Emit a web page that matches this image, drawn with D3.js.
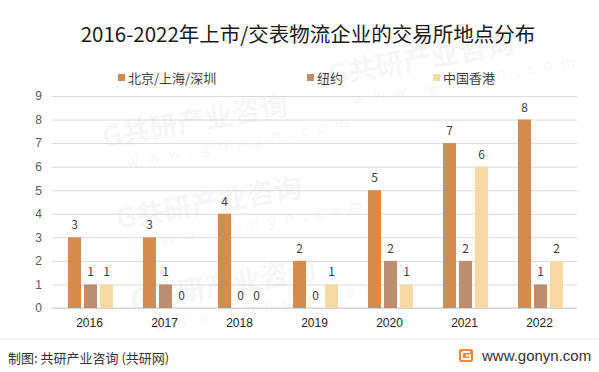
<!DOCTYPE html>
<html>
<head>
<meta charset="utf-8">
<script src="https://cdn.jsdelivr.net/npm/d3@7/dist/d3.min.js"></script>
<style>
  body { margin: 0; background: #fff; }
  svg { display: block; font-family: "Noto Sans CJK SC", "Noto Sans", sans-serif; }
  .grid line { stroke: #d9d9d9; stroke-width: 1; }
  .axis text { fill: #595959; font-size: 12px; }
  .lbl { fill: #404040; font-size: 12px; }
</style>
</head>
<body>
<svg id="chart" width="599" height="372"></svg>
<script>
var years = ["2016", "2017", "2018", "2019", "2020", "2021", "2022"];
var seriesNames = ["北京/上海/深圳", "纽约", "中国香港"];
var domestic = [3, 3, 4, 2, 5, 7, 8];
var newYork = [1, 1, 0, 0, 2, 2, 1];
var hongKong = [1, 0, 0, 1, 1, 6, 2];
var yTicks = [0, 1, 2, 3, 4, 5, 6, 7, 8, 9];
var colors = ["#d38b4e", "#bc8d6e", "#f7d9a4"];

var svg = d3.select("#chart");
var margin = {top: 96, right: 22, bottom: 64, left: 52}
    , width = 599 - margin.left - margin.right
    , height = 372 - margin.top - margin.bottom
    ;

// faint watermark grid, keep only the copies that fit inside the picture
var wm = svg.append("g").attr("class", "watermark");
d3.range(5).forEach(function(r) {
    d3.range(4).forEach(function(c) {
        var g = wm.append("g")
            .attr("transform", "translate(" + (-150 + c * 240 + r * 14) + "," + (45 + r * 82 + c * 20) + ") rotate(-10)");
        g.append("text").attr("x", 0).attr("y", 0)
            .style("font-size", "28px").style("font-weight", "bold").style("fill", "#000").style("opacity", 0.03)
            .text("G共研产业咨询");
        g.append("text").attr("x", 20).attr("y", 24)
            .style("font-size", "15px").style("fill", "#000").style("opacity", 0.03)
            .style("letter-spacing", "9px")
            .text("www.gonyn.com");
        var b = g.node().getBoundingClientRect();
        if (b.left < 0 || b.top < 0 || b.right > 599 || b.bottom > 372) g.remove();
    });
});

svg.append("text")
    .attr("x", 308).attr("y", 42)
    .attr("text-anchor", "middle")
    .style("font-size", "20.5px").style("fill", "#1a1a1a")
    .text("2016-2022年上市/交表物流企业的交易所地点分布");

// legend
var legendX = [118, 307, 433];
var legend = svg.append("g").selectAll("g").data(seriesNames).enter().append("g")
    .attr("transform", function(d, i) { return "translate(" + legendX[i] + ",74)"; });
legend.append("rect").attr("width", 7).attr("height", 7).attr("fill", function(d, i) { return colors[i]; });
legend.append("text").attr("x", 10).attr("y", 4).attr("dy", "0.35em")
    .style("font-size", "13px").style("fill", "#404040")
    .text(function(d) { return d; });

var g = svg.append("g").attr("transform", "translate(" + margin.left + "," + margin.top + ")");

var x = d3.scaleBand().domain(years).range([0, width]).padding(0);
var xs = d3.scaleBand().domain([0, 1, 2]).range([16, 61]).paddingInner(3 / 16).paddingOuter(0);
var y = d3.scaleLinear().domain([0, 9]).range([height, 0]);

var yAxis = d3.axisLeft(y).tickValues(yTicks).tickSizeInner(-width).tickSizeOuter(0).tickPadding(10);
var ya = g.append("g").attr("class", "axis grid").call(yAxis);
ya.select(".domain").remove();
ya.selectAll("text").attr("x", -10);

g.append("line").attr("x1", 0).attr("x2", width).attr("y1", y(0)).attr("y2", y(0))
    .attr("stroke", "#cfcfcf");

var xAxis = d3.axisBottom(x).tickSize(0).tickPadding(10);
var xa = g.append("g").attr("class", "axis").attr("transform", "translate(0," + height + ")").call(xAxis);
xa.select(".domain").remove();
xa.selectAll("text").style("fill", "#262626").style("font-size", "12px");

var series = [domestic, newYork, hongKong];
series.forEach(function(vals, s) {
    var sg = g.append("g");
    sg.selectAll("rect").data(vals).enter().append("rect")
        .attr("x", function(d, i) { return x(years[i]) + xs(s); })
        .attr("width", xs.bandwidth())
        .attr("y", function(d) { return y(d); })
        .attr("height", function(d) { return y(0) - y(d); })
        .attr("fill", colors[s]);
    sg.selectAll("text").data(vals).enter().append("text")
        .attr("class", "lbl")
        .attr("text-anchor", "middle")
        .attr("x", function(d, i) { return x(years[i]) + xs(s) + xs.bandwidth() / 2; })
        .attr("y", function(d) { return y(d) - 8; })
        .text(function(d) { return d; });
});

// footer
svg.append("line").attr("x1", 0).attr("x2", 599).attr("y1", 339).attr("y2", 339).attr("stroke", "#ececec");
svg.append("text").attr("x", 8).attr("y", 358).attr("dy", "0.35em")
    .style("font-size", "13px").style("fill", "#333")
    .text("制图: 共研产业咨询 (共研网)");
var logo = svg.append("g").attr("transform", "translate(459,349)");
logo.append("rect").attr("width", 14).attr("height", 13).attr("rx", 2).attr("fill", "#f08a3c");
logo.append("path").attr("d", "M3,3 H11 M3,3 V10 H11 V6.5 H7").attr("stroke", "#fff").attr("stroke-width", 2).attr("fill", "none");
svg.append("text").attr("x", 482).attr("y", 356).attr("dy", "0.35em")
    .style("font-family", "'Liberation Sans', Arial, sans-serif")
    .style("font-size", "15px").style("fill", "#333")
    .text("www.gonyn.com");
</script>
</body>
</html>
